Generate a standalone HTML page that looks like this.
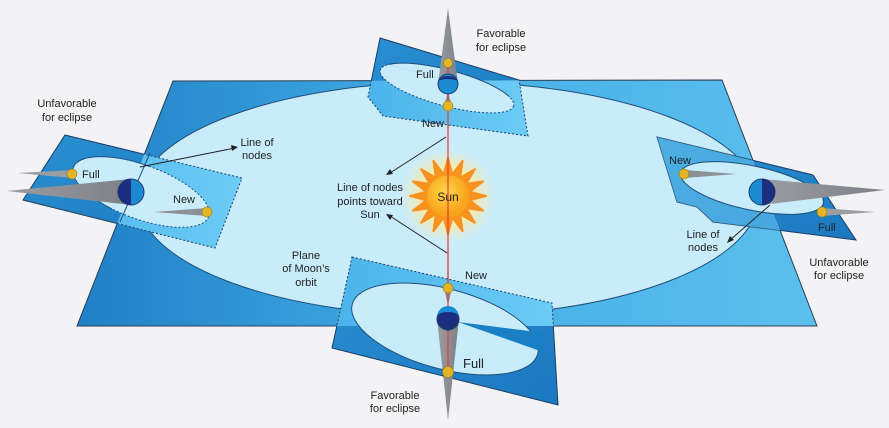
<!DOCTYPE html>
<html><head><meta charset="utf-8"><style>
html,body{margin:0;padding:0;background:#f3f3f5;}
svg{display:block;font-family:"Liberation Sans",Arial,sans-serif;}
text{font-size:11px;fill:#222;}
</style></head><body>
<svg width="889" height="428" viewBox="0 0 889 428" xmlns="http://www.w3.org/2000/svg">
<defs>
<linearGradient id="pg" x1="0" y1="0" x2="1" y2="0">
<stop offset="0" stop-color="#1f80c6"/><stop offset="0.5" stop-color="#45aee6"/><stop offset="1" stop-color="#5cc0ee"/>
</linearGradient>
<linearGradient id="tg" x1="0" y1="0" x2="1" y2="1">
<stop offset="0" stop-color="#2a8fd2"/><stop offset="1" stop-color="#1b78c0"/>
</linearGradient>
<linearGradient id="lg" x1="0" y1="0" x2="1" y2="0">
<stop offset="0" stop-color="#4ab3ea"/><stop offset="1" stop-color="#6cccf5"/>
</linearGradient>
<linearGradient id="sh" x1="0" y1="0" x2="1" y2="0">
<stop offset="0" stop-color="#9a9da2"/><stop offset="1" stop-color="#7d8086"/>
</linearGradient>
<radialGradient id="glow"><stop offset="0.5" stop-color="#ffe9a0" stop-opacity="0.9"/><stop offset="1" stop-color="#ffe9a0" stop-opacity="0"/></radialGradient>
<radialGradient id="core" cx="0.45" cy="0.4"><stop offset="0" stop-color="#ffd84a"/><stop offset="1" stop-color="#f9a51c"/></radialGradient>
<clipPath id="inMain"><polygon points="173,81 722,80 817,326 77,326"/></clipPath>
<clipPath id="outMain"><path clip-rule="evenodd" d="M0,0H889V428H0Z M173,81 L722,80 L817,326 L77,326Z"/></clipPath>
</defs>

<polygon points="173,81 722,80 817,326 77,326" fill="url(#pg)" stroke="#2b3d52" stroke-width="1"/>
<ellipse cx="448" cy="199" rx="310" ry="117" fill="#c9ecfb" stroke="#1f4f7a" stroke-width="1"/>

<circle cx="448" cy="196" r="48" fill="url(#glow)"/>
<polygon points="486,196 469.6,200.3 483.1,210.6 466.3,208.2 474.9,222.9 460.2,214.3 462.6,231.1 452.3,217.6 448,234 443.7,217.6 433.4,231.1 435.8,214.3 421.1,222.9 429.7,208.2 412.9,210.6 426.4,200.3 410,196 426.4,191.7 412.9,181.4 429.7,183.8 421.1,169.1 435.8,177.7 433.4,160.9 443.7,174.4 448,158 452.3,174.4 462.6,160.9 460.2,177.7 474.9,169.1 466.3,183.8 483.1,181.4 469.6,191.7" fill="#f7931e" stroke="#f7931e" stroke-width="2" stroke-linejoin="round"/>
<circle cx="448" cy="196" r="21" fill="url(#core)" stroke="#f4a020" stroke-width="1"/>
<text x="448" y="201" text-anchor="middle" style="font-size:12px">Sun</text>

<line x1="448" y1="63" x2="448" y2="372" stroke="#e8383a" stroke-width="1.2"/>

<!-- LEFT plane -->
<g clip-path="url(#outMain)">
<polygon points="65,135 242,178 215,248 23,200" fill="url(#tg)" stroke="#1d3f66" stroke-width="1"/>
</g>
<g clip-path="url(#inMain)">
<polygon points="65,135 242,178 215,248 23,200" fill="url(#lg)" stroke="#1d3f66" stroke-width="1" stroke-dasharray="2,2"/>
</g>
<ellipse cx="141" cy="192" rx="72" ry="27" transform="rotate(20 141 192)" fill="#c9ecfb" stroke="#1f4f7a" stroke-width="1" clip-path="url(#outMain)"/>
<ellipse cx="141" cy="192" rx="72" ry="27" transform="rotate(20 141 192)" fill="#c9ecfb" stroke="#1f4f7a" stroke-width="1" stroke-dasharray="2,2" clip-path="url(#inMain)"/>
<line x1="150" y1="153" x2="120" y2="222" stroke="#1f4f7a" stroke-width="1"/>
<polygon points="131,179 7,191 131,205" fill="url(#sh)"/>
<polygon points="72,170 18,173 72,178" fill="#9a9da2"/>
<polygon points="207,208 154,212 207,216" fill="#8d9095"/>
<circle cx="131" cy="192" r="13" fill="#1b8ad3" stroke="#1d3f66"/>
<path d="M131,179 A13,13 0 0 0 131,205 Z" fill="#1b2f7e"/>
<circle cx="72" cy="174" r="5" fill="#e4b526" stroke="#9b7a12" stroke-width="0.6"/>
<circle cx="207" cy="212" r="5" fill="#e4b526" stroke="#9b7a12" stroke-width="0.6"/>
<line x1="140" y1="167" x2="235" y2="148" stroke="#222" stroke-width="1"/>
<polygon points="238,147 231,145 232,151" fill="#222"/>

<!-- RIGHT plane -->
<polygon points="657,137 813,175 856,240 713,222 697,207 677,202" fill="url(#tg)" stroke="#1d3f66" stroke-width="1"/>
<polygon points="657,137 813,175 856,240 713,222 697,207 677,202" fill="#6ac9f3" opacity="0.55" clip-path="url(#inMain)"/>
<ellipse cx="752" cy="188" rx="73" ry="22" transform="rotate(12 752 188)" fill="#c9ecfb" stroke="#1f4f7a" stroke-width="1"/>
<polygon points="762,179 885,190 762,205" fill="url(#sh)"/>
<polygon points="684,170 737,174 684,178" fill="#8d9095"/>
<polygon points="822,208 875,212 822,216" fill="#9a9da2"/>
<circle cx="762" cy="192" r="13" fill="#1b8ad3" stroke="#1d3f66"/>
<path d="M762,179 A13,13 0 0 1 762,205 Z" fill="#1b2f7e"/>
<circle cx="684" cy="174" r="5" fill="#e4b526" stroke="#9b7a12" stroke-width="0.6"/>
<circle cx="822" cy="212" r="5" fill="#e4b526" stroke="#9b7a12" stroke-width="0.6"/>
<line x1="770" y1="205" x2="729" y2="241" stroke="#222" stroke-width="1"/>
<polygon points="727,243 730,236 734,240" fill="#222"/>

<!-- TOP plane -->
<g clip-path="url(#outMain)">
<polygon points="380,38 519,80 528,136 383,116 368,97" fill="url(#tg)" stroke="#1d3f66" stroke-width="1"/>
</g>
<g clip-path="url(#inMain)">
<polygon points="380,38 519,80 528,136 383,116 368,97" fill="url(#lg)" stroke="#1d3f66" stroke-width="1" stroke-dasharray="2,2"/>
</g>
<ellipse cx="447" cy="88" rx="69" ry="18" transform="rotate(15 447 88)" fill="#c9ecfb" stroke="#1f4f7a" stroke-width="1" clip-path="url(#outMain)"/>
<ellipse cx="447" cy="88" rx="69" ry="18" transform="rotate(15 447 88)" fill="#c9ecfb" stroke="#1f4f7a" stroke-width="1" stroke-dasharray="2,2" clip-path="url(#inMain)"/>
<polygon points="438,84 448,8 458,84" fill="url(#sh)"/>
<polygon points="444,106 448,92 452,106" fill="#8d9095"/>
<line x1="448" y1="63" x2="448" y2="130" stroke="#e8383a" stroke-width="1.2"/>
<circle cx="448" cy="84" r="10" fill="#1b8ad3" stroke="#1d3f66"/>
<path d="M438,82 A10,6 0 0 1 458,82 A10,3 0 0 0 438,82Z" fill="#1b2f7e"/>
<circle cx="448" cy="63" r="4.5" fill="#e4b526" stroke="#9b7a12" stroke-width="0.6"/>
<circle cx="448" cy="106" r="5" fill="#e4b526" stroke="#9b7a12" stroke-width="0.6"/>

<!-- BOTTOM plane -->
<g clip-path="url(#outMain)">
<polygon points="352,257 552,303 558,405 332,348" fill="url(#tg)" stroke="#1d3f66" stroke-width="1"/>
</g>
<g clip-path="url(#inMain)">
<polygon points="352,257 552,303 558,405 332,348" fill="url(#lg)" stroke="#1d3f66" stroke-width="1" stroke-dasharray="2,2"/>
</g>
<ellipse cx="445" cy="329" rx="96" ry="40" transform="rotate(15 445 329)" fill="#c9ecfb" stroke="#1f4f7a" stroke-width="1"/>
<polygon points="458,322 545,333 543,352" fill="#1a7fc4"/>
<polygon points="437,319 448,420 459,319" fill="url(#sh)"/>
<polygon points="444,288 448,305 452,288" fill="#8d9095"/>
<line x1="448" y1="250" x2="448" y2="372" stroke="#e8383a" stroke-width="1.2"/>
<circle cx="448" cy="319" r="11" fill="#1b2f7e" stroke="#1d3f66"/>
<path d="M437,317 A11,11 0 0 1 459,317 A11,5 0 0 0 437,317Z" fill="#1b8ad3"/>
<circle cx="448" cy="288" r="5" fill="#e4b526" stroke="#9b7a12" stroke-width="0.6"/>
<circle cx="448" cy="372" r="5.5" fill="#e4b526" stroke="#9b7a12" stroke-width="0.6"/>

<line x1="446" y1="137" x2="390" y2="173" stroke="#222" stroke-width="1"/>
<polygon points="386,175 390,169 393,174" fill="#222"/>
<line x1="447" y1="253" x2="390" y2="216" stroke="#222" stroke-width="1"/>
<polygon points="386,214 393,215 390,220" fill="#222"/>

<text x="67" y="107" text-anchor="middle">Unfavorable</text>
<text x="67" y="121" text-anchor="middle">for eclipse</text>
<text x="257" y="146" text-anchor="middle">Line of</text>
<text x="257" y="159" text-anchor="middle">nodes</text>
<text x="82" y="178">Full</text>
<text x="173" y="203">New</text>
<text x="416" y="78">Full</text>
<text x="422" y="127">New</text>
<text x="501" y="37" text-anchor="middle">Favorable</text>
<text x="501" y="51" text-anchor="middle">for eclipse</text>
<text x="370" y="191" text-anchor="middle">Line of nodes</text>
<text x="370" y="205" text-anchor="middle">points toward</text>
<text x="370" y="218" text-anchor="middle">Sun</text>
<text x="306" y="259" text-anchor="middle">Plane</text>
<text x="306" y="272" text-anchor="middle">of Moon’s</text>
<text x="306" y="286" text-anchor="middle">orbit</text>
<text x="465" y="279">New</text>
<text x="463" y="368" style="font-size:13px">Full</text>
<text x="395" y="399" text-anchor="middle">Favorable</text>
<text x="395" y="412" text-anchor="middle">for eclipse</text>
<text x="669" y="164">New</text>
<text x="818" y="231">Full</text>
<text x="703" y="238" text-anchor="middle">Line of</text>
<text x="703" y="251" text-anchor="middle">nodes</text>
<text x="839" y="266" text-anchor="middle">Unfavorable</text>
<text x="839" y="279" text-anchor="middle">for eclipse</text>
</svg>
</body></html>
